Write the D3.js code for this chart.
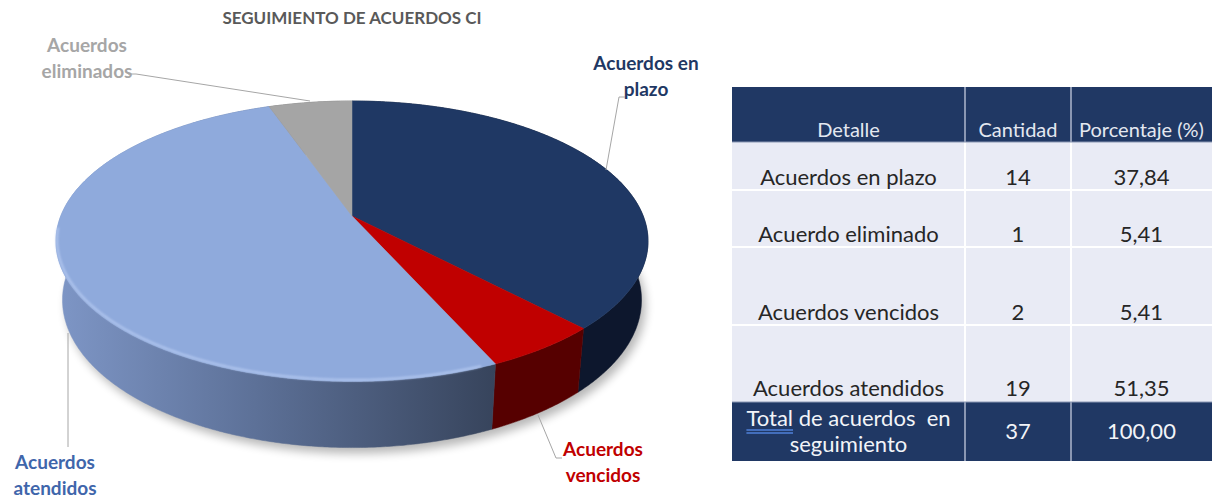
<!DOCTYPE html>
<html>
<head>
<meta charset="utf-8">
<script src="https://cdn.jsdelivr.net/npm/d3@7"></script>
<style>
  html, body { margin: 0; padding: 0; background: #fff; }
  svg { display: block; font-family: Lato, "Open Sans", sans-serif; }
</style>
</head>
<body>
<svg id="chart" width="1212" height="501"></svg>
<script>
// =========================
// DADES
// =========================
const sliceNames = ["Acuerdos en plazo", "Acuerdos vencidos", "Acuerdos atendidos", "Acuerdos eliminados"];
const sliceValues = [14, 2, 19, 2];
const sliceTop = ["#1f3864", "#c00000", "#8faadc", "#a5a5a5"];
const sliceSide = ["#0d172d", "#560000", "url(#side-blue)", "#6e6e6e"];

const tableHeader = ["Detalle", "Cantidad", "Porcentaje (%)"];
const rowDetalle = ["Acuerdos en plazo", "Acuerdo eliminado", "Acuerdos vencidos", "Acuerdos atendidos"];
const rowCantidad = ["14", "1", "2", "19"];
const rowPorcentaje = ["37,84", "5,41", "5,41", "51,35"];
const totalCantidad = "37";
const totalPorcentaje = "100,00";

const svg = d3.select("#chart");
const defs = svg.append("defs");

// =========================
// PASTÍS 3D (perspectiva)
// =========================
const cx = 352, cy = 216;
const S = 291.2, sinT = 0.466, cosT = 0.885, D = 4.92, H = 0.23;

const xs = d3.scaleLinear().domain([-1, 1]).range([cx - S, cx + S]);
const ys = d3.scaleLinear().domain([-1, 1]).range([cy - S, cy + S]);

function proj(a, h) {
  const u = Math.sin(a), v = -Math.cos(a);
  const den = D - (v * cosT + h * sinT);
  return [xs(u * D / den), ys((v * sinT - h * cosT) * D / den)];
}

function rim(a0, a1, h) {
  const n = Math.max(2, Math.ceil((a1 - a0) / 0.008));
  return d3.range(n + 1).map(i => proj(a0 + (a1 - a0) * i / n, h));
}

const arcs = d3.pie().sort(null).value(d => d)(sliceValues);

const grad = defs.append("linearGradient")
  .attr("id", "side-blue")
  .attr("gradientUnits", "userSpaceOnUse")
  .attr("x1", 57).attr("x2", 495).attr("y1", 0).attr("y2", 0);
grad.selectAll("stop")
  .data([["0%", "#7e96c6"], ["45%", "#5d7198"], ["100%", "#37445c"]])
  .enter().append("stop")
  .attr("offset", d => d[0])
  .attr("stop-color", d => d[1]);

const blur = defs.append("filter").attr("id", "shadow-blur")
  .attr("x", "-20%").attr("y", "-20%").attr("width", "140%").attr("height", "140%");
blur.append("feGaussianBlur").attr("stdDeviation", 5);

const soft = defs.append("filter").attr("id", "soft");
soft.append("feGaussianBlur").attr("stdDeviation", 0.8);

const line = d3.line();

// ombra
svg.append("path")
  .attr("d", line(rim(0, 2 * Math.PI, -H)) + "Z")
  .attr("transform", "translate(4,6)")
  .attr("fill", "#000")
  .attr("opacity", 0.28)
  .attr("filter", "url(#shadow-blur)");

// parets
svg.selectAll(".wall")
  .data(arcs)
  .enter()
  .append("path")
  .attr("class", "wall")
  .attr("d", d => line(rim(d.startAngle, d.endAngle, 0).concat(rim(d.startAngle, d.endAngle, -H).reverse())) + "Z")
  .attr("fill", (d, i) => sliceSide[i])
  .attr("stroke", (d, i) => sliceSide[i])
  .attr("stroke-width", 0.5);

// cares superiors
svg.selectAll(".top")
  .data(arcs)
  .enter()
  .append("path")
  .attr("class", "top")
  .attr("d", d => line([[cx, cy]].concat(rim(d.startAngle, d.endAngle, 0))) + "Z")
  .attr("fill", (d, i) => sliceTop[i])
  .attr("stroke", (d, i) => sliceTop[i])
  .attr("stroke-width", 0.5);

// reflex a la vora del sector blau
svg.append("path")
  .attr("d", line(rim(arcs[2].startAngle + 0.05, arcs[2].startAngle + 1.9, 0).map(p => [p[0] + 1, p[1] - 1.5])))
  .attr("fill", "none")
  .attr("stroke", "#b9cdf3")
  .attr("stroke-width", 2.2)
  .attr("opacity", 0.8)
  .attr("filter", "url(#soft)");

// =========================
// TÍTOL I ETIQUETES
// =========================
svg.append("text")
  .attr("x", 352).attr("y", 24)
  .attr("text-anchor", "middle")
  .text("SEGUIMIENTO DE ACUERDOS CI")
  .style("font-size", "17px")
  .style("font-weight", "bold")
  .style("fill", "#595959");

const labels = [
  { lines: ["Acuerdos", "eliminados"], x: 87, y: 52, color: "#a6a6a6" },
  { lines: ["Acuerdos en", "plazo"], x: 646, y: 70, color: "#1f3864" },
  { lines: ["Acuerdos", "vencidos"], x: 603, y: 456, color: "#c00000" },
  { lines: ["Acuerdos", "atendidos"], x: 55, y: 469, color: "#3f66ab" }
];

labels.forEach(l => {
  const t = svg.append("text")
    .attr("text-anchor", "middle")
    .style("font-size", "19px")
    .style("font-weight", "bold")
    .style("fill", l.color);
  l.lines.forEach((s, i) => {
    t.append("tspan").attr("x", l.x).attr("y", l.y + i * 26).text(s);
  });
});

const leaders = [
  [[128, 74], [136, 74], [310, 101]],
  [[625, 97], [619, 97], [606, 170]],
  [[538, 415], [556, 458], [562, 458]],
  [[68, 333], [68, 447]]
];

svg.selectAll(".leader")
  .data(leaders)
  .enter()
  .append("path")
  .attr("class", "leader")
  .attr("d", d => line(d))
  .attr("fill", "none")
  .attr("stroke", "#a6a6a6")
  .attr("stroke-width", 1);

// =========================
// TAULA
// =========================
const colEdges = [732, 965, 1071, 1212];
const rowEdges = [87, 142, 190, 247, 325, 402, 461];
const navy = "#203864";

const colMid = i => (colEdges[i] + colEdges[i + 1]) / 2;

svg.append("rect")
  .attr("x", colEdges[0]).attr("y", rowEdges[0])
  .attr("width", colEdges[3] - colEdges[0]).attr("height", rowEdges[1] - rowEdges[0])
  .attr("fill", navy);

svg.append("rect")
  .attr("x", colEdges[0]).attr("y", rowEdges[1])
  .attr("width", colEdges[3] - colEdges[0]).attr("height", rowEdges[5] - rowEdges[1])
  .attr("fill", "#e9ebf5");

svg.append("rect")
  .attr("x", colEdges[0]).attr("y", rowEdges[5])
  .attr("width", colEdges[3] - colEdges[0]).attr("height", rowEdges[6] - rowEdges[5])
  .attr("fill", navy);

// línies blanques del cos
[2, 3, 4].forEach(r => {
  svg.append("line")
    .attr("x1", colEdges[0]).attr("x2", colEdges[3])
    .attr("y1", rowEdges[r]).attr("y2", rowEdges[r])
    .attr("stroke", "#fff").attr("stroke-width", 2);
});
[1, 2].forEach(c => {
  svg.append("line")
    .attr("x1", colEdges[c]).attr("x2", colEdges[c])
    .attr("y1", rowEdges[1]).attr("y2", rowEdges[5])
    .attr("stroke", "#fff").attr("stroke-width", 2);
  [[0, 1], [5, 6]].forEach(([a, b]) => {
    svg.append("line")
      .attr("x1", colEdges[c]).attr("x2", colEdges[c])
      .attr("y1", rowEdges[a]).attr("y2", rowEdges[b])
      .attr("stroke", "#8a97b3").attr("stroke-width", 2);
  });
});
svg.append("line")
  .attr("x1", colEdges[0]).attr("x2", colEdges[3])
  .attr("y1", rowEdges[1]).attr("y2", rowEdges[1])
  .attr("stroke", "#8a97b3").attr("stroke-width", 1);
svg.append("line")
  .attr("x1", colEdges[0]).attr("x2", colEdges[3])
  .attr("y1", rowEdges[5]).attr("y2", rowEdges[5])
  .attr("stroke", "#8a97b3").attr("stroke-width", 1);

// capçalera
svg.selectAll(".th")
  .data(tableHeader)
  .enter()
  .append("text")
  .attr("class", "th")
  .attr("x", (d, i) => colMid(i))
  .attr("y", 137)
  .attr("text-anchor", "middle")
  .text(d => d)
  .style("font-size", "20px")
  .style("fill", "#e4e8f0");

// files
const rowBase = [185, 242, 320, 396];
[rowDetalle, rowCantidad, rowPorcentaje].forEach((col, c) => {
  svg.selectAll(".td" + c)
    .data(col)
    .enter()
    .append("text")
    .attr("class", "td" + c)
    .attr("x", colMid(c))
    .attr("y", (d, i) => rowBase[i])
    .attr("text-anchor", "middle")
    .text(d => d)
    .style("font-size", "22px")
    .style("fill", "#262626");
});

// fila total
const tot = svg.append("text")
  .attr("text-anchor", "middle")
  .style("font-size", "22px")
  .style("white-space", "pre")
  .style("fill", "#f2f4f8");
tot.append("tspan").attr("x", colMid(0)).attr("y", 426).text("Total de acuerdos  en");
tot.append("tspan").attr("x", colMid(0)).attr("y", 452).text("seguimiento");

const totWord = tot.select("tspan").node();
const ext = totWord.getSubStringLength(0, 5);
const startX = colMid(0) - totWord.getComputedTextLength() / 2;
[430, 433].forEach(y => {
  svg.append("line")
    .attr("x1", startX).attr("x2", startX + ext)
    .attr("y1", y).attr("y2", y)
    .attr("stroke", "#4f81d9").attr("stroke-width", 1.3);
});

[totalCantidad, totalPorcentaje].forEach((v, i) => {
  svg.append("text")
    .attr("x", colMid(i + 1)).attr("y", 439)
    .attr("text-anchor", "middle")
    .text(v)
    .style("font-size", "22px")
    .style("fill", "#f2f4f8");
});
</script>
</body>
</html>
